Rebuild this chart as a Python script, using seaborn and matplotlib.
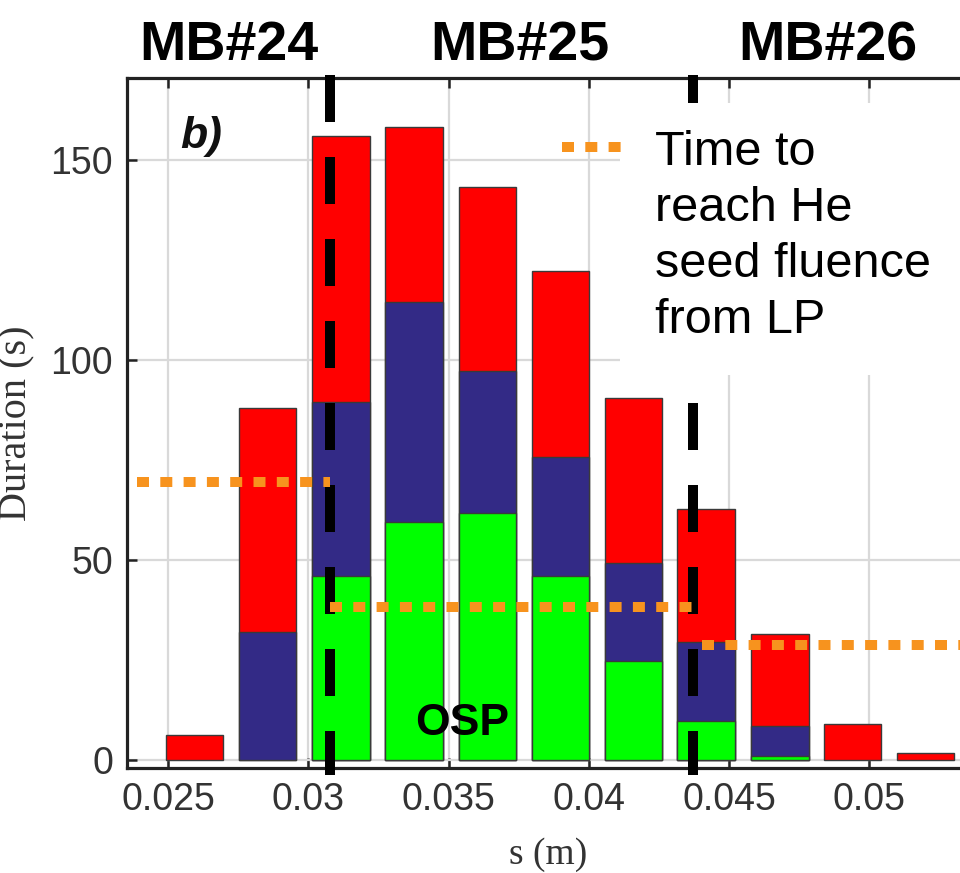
import numpy as np
import pandas as pd
import matplotlib
matplotlib.use("Agg")
import matplotlib.pyplot as plt
import seaborn as sns
from matplotlib.patches import Rectangle

# ---------------- data ----------------
s_pos = [0.02594, 0.02855, 0.03117, 0.03377, 0.03639, 0.03900,
         0.04160, 0.04418, 0.04682, 0.04940, 0.05201]
green_top = [0, 0, 46, 59.5, 61.75, 46, 24.75, 9.75, 1, 0, 0]
blue_top = [0, 32, 89.5, 114.5, 97.25, 75.75, 49.25, 29.5, 8.5, 0, 0]
red_top = [6.25, 88, 156, 158.3, 143.3, 122.3, 90.5, 62.8, 31.5, 9, 1.75]

mb_labels = ["MB#24", "MB#25", "MB#26"]
mb_pos = [0.027175, 0.03755, 0.04853]
boundaries = [0.030775, 0.043717]

fluence_x0 = [0.023895, 0.030775, 0.04405]
fluence_x1 = [0.030775, 0.043717, 0.0537]
fluence_y = [69.5, 38.25, 28.75]
legend_label = "Time to\nreach He\nseed fluence\nfrom LP"

xticks = [0.025, 0.03, 0.035, 0.04, 0.045, 0.05]
xticklabels = ["0.025", "0.03", "0.035", "0.04", "0.045", "0.05"]
yticks = [0, 50, 100, 150]
yticklabels = ["0", "50", "100", "150"]

# ---------------- style ----------------
sns.set_style("ticks")
plt.rcParams["font.family"] = ["Liberation Sans", "DejaVu Sans"]

RED = "#ff0000"
BLUE = "#332a86"
GREEN = "#00ff00"
ORANGE = "#f7931e"
EDGE = "#3a3a3a"

fig = plt.figure(figsize=(9.6, 8.73), dpi=100)
ax = fig.add_axes([127 / 960, 105 / 873, (970 - 127) / 960, 690 / 873])

df = pd.DataFrame({"s": s_pos, "red": red_top, "blue": blue_top, "green": green_top})

for col, colr in [("red", RED), ("blue", BLUE), ("green", GREEN)]:
    sub = df[df[col] > 0]
    sns.barplot(data=sub, x="s", y=col, native_scale=True, color=colr,
                saturation=1, width=0.79, edgecolor=EDGE, linewidth=1.0,
                errorbar=None, ax=ax, zorder=2)

ax.set_xlim(0.023538, 0.053592)
ax.set_ylim(-2, 170.5)

# boundaries between monoblocks (dashed black)
for b in boundaries:
    ax.plot([b, b], [171.25, -3.75], color="black", lw=7.2,
            dashes=(4.7, 3.5), dash_capstyle="butt", clip_on=False, zorder=3)

# orange dotted fluence lines
lines = []
for x0, x1, y in zip(fluence_x0, fluence_x1, fluence_y):
    ln, = ax.plot([x0, x1], [y, y], color=ORANGE, lw=7.2,
                  dashes=(1.2, 1.13), dash_capstyle="butt", zorder=4,
                  clip_on=False)
    lines.append(ln)

# white box behind legend
ax.add_patch(Rectangle((0.585, 0.5696), 0.43, 0.3942, transform=ax.transAxes,
                       facecolor="white", edgecolor="none", zorder=3.5,
                       clip_on=False))

leg = ax.legend(handles=[lines[0]], labels=[legend_label], loc="upper left",
                bbox_to_anchor=(0.516, 0.925), frameon=False, fontsize=35,
                borderpad=0, borderaxespad=0, handlelength=1.24,
                handletextpad=0.68, labelcolor="black")
leg.set_zorder(6)
for t in leg.get_texts():
    t.set_linespacing(1.32)
try:
    for col_box in leg._legend_handle_box.get_children():
        for hp in col_box.get_children():
            hp.align = "top"
except Exception:
    pass

# grid, ticks, spines
ax.set_axisbelow(True)
ax.grid(True, color="#d9d9d9", lw=1.6, zorder=0)
ax.set_xticks(xticks)
ax.set_xticklabels(xticklabels)
ax.set_yticks(yticks)
ax.set_yticklabels(yticklabels)
ax.tick_params(direction="in", length=7, width=1.8, top=True, bottom=True,
               left=True, right=False, labelsize=27, colors="#222222")
ax.tick_params(axis="x", pad=10, labelcolor="#333333")
ax.tick_params(axis="y", pad=10, labelcolor="#333333")
for sp in ["top", "bottom", "left"]:
    ax.spines[sp].set_linewidth(2.3)
    ax.spines[sp].set_color("#222222")
ax.spines["right"].set_visible(False)

ax.set_xlabel("s (m)", family=["Liberation Serif", "DejaVu Serif"],
              fontsize=27, labelpad=14, color="#333333")
ax.set_ylabel("Duration (s)", family=["Liberation Serif", "DejaVu Serif"],
              fontsize=29, labelpad=11, color="#333333")

# annotations
ax.text(0.026176, 153, "b)", fontsize=32, fontweight="bold", fontstyle="italic",
        ha="center", va="baseline", color="#111111", zorder=7)
ax.text(0.035481, 6.25, "OSP", fontsize=32, fontweight="bold",
        ha="center", va="baseline", color="black", zorder=7)
for lab, xp in zip(mb_labels, mb_pos):
    ax.text(xp, 1.026, lab, transform=ax.get_xaxis_transform(), fontsize=40,
            fontweight="bold", ha="center", va="baseline", color="black",
            clip_on=False)

fig.savefig("out.png", dpi=100)
